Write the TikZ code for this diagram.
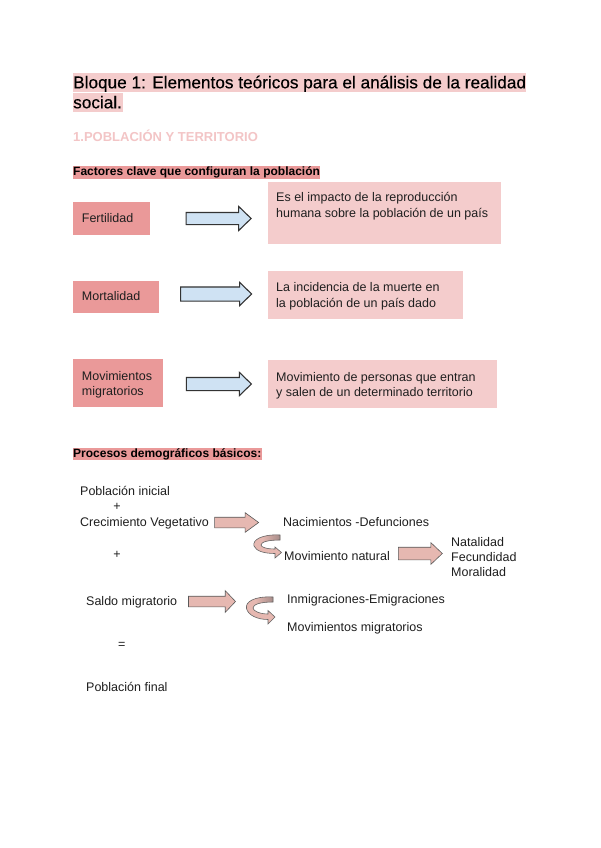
\documentclass[tikz,border=0pt]{standalone}
\usepackage{fontspec}
\setmainfont{Liberation Sans}
\newfontfamily\ttlfont{Liberation Sans}[FakeBold=0.35]
\usetikzlibrary{shapes.arrows}
\definecolor{hlA}{HTML}{F4CCCC}
\definecolor{hlB}{HTML}{EA9999}
\definecolor{secC}{HTML}{F3C5C6}
\definecolor{blueA}{HTML}{CFE2F3}
\definecolor{salmon}{HTML}{E6B8B1}
\definecolor{salmonD}{HTML}{A38A87}
\newcommand\curvpathA{(280,535) .. controls (262,534) and (252,540) .. (254,546) .. controls (256,551) and (264,553.5) .. (275,553.5)
  -- (275,558) -- (281.5,552.5) -- (275,547) -- (275,549)
  .. controls (266,549) and (261,547) .. (261,545) .. controls (261,542) and (268,540) .. (280,540) -- cycle}
\newcommand\curvpathB{(273,597) .. controls (254,596) and (245,602) .. (246.5,608.5) .. controls (248,615) and (257,619.5) .. (268,619.5)
  -- (268,624) -- (275,617) -- (268,610.5) -- (268,614)
  .. controls (260,614) and (253,611) .. (253,608) .. controls (253,604.5) and (260,602) .. (273,602) -- cycle}
\begin{document}
\begin{tikzpicture}[x=1pt,y=-1pt,
  txt/.style={inner sep=0pt, anchor=base west, font=\fontsize{12.5}{16}\selectfont, text=black!88},
  ttl/.style={inner sep=0pt, anchor=base west, font=\ttlfont\fontsize{17.2}{20}\selectfont, text=black},
  hd/.style={inner sep=0pt, anchor=base west, font=\fontsize{12}{14}\selectfont\bfseries, text=black},
  keybox/.style={fill=hlB, draw=none, anchor=north west, inner sep=0pt},
  descbox/.style={fill=hlA, draw=none, anchor=north west, inner sep=0pt},
  barrow/.style={single arrow, draw=black!80, line width=1.1pt, fill=blueA, inner xsep=0pt},
  parrow/.style={single arrow, draw=black!65, line width=0.6pt, fill=salmon, inner xsep=0pt},
  curvline/.style={draw=black!60, line width=0.6pt},
  curvshade/.style={left color=salmon, right color=salmonD},
]
\useasboundingbox[fill=white] (0,0) rectangle (600,848);

% title
\fill[hlA] (73,72.7) rectangle (526,91.7);
\fill[hlA] (73,93.3) rectangle (122.7,112.3);
\node[ttl] (t1) at (73,88.3) {Bloque 1: Elementos teóricos para el análisis de la realidad};
\node[ttl] (t2) at (73,108.3) {social.};
\node[inner sep=0pt, anchor=base west, font=\fontsize{13}{15}\selectfont\bfseries, text=secC] (sec) at (73,141.7) {1.POBLACIÓN Y TERRITORIO};

\fill[hlB] (73,166) rectangle (320,179.3);
\node[hd] (fac) at (73,175) {Factores clave que configuran la población};

% boxes row 1
\node[keybox, minimum width=77pt, minimum height=33pt] (fert) at (73,202) {};
\node[txt] (fertT) at (81.7,222.7) {Fertilidad};
\node[barrow, minimum height=65pt, minimum width=23pt, inner ysep=5.5pt, single arrow head extend=6pt, single arrow tip angle=88] (a1) at (215.5,218.5) {};
\node[descbox, minimum width=233pt, minimum height=62pt] (d1) at (268,182) {};
\node[txt] (d1a) at (276,201) {Es el impacto de la reproducción};
\node[txt] (d1b) at (276,217) {humana sobre la población de un país};

% row 2
\node[keybox, minimum width=86pt, minimum height=32pt] (mort) at (73,281) {};
\node[txt] (mortT) at (81.7,300.7) {Mortalidad};
\node[barrow, minimum height=71pt, minimum width=22pt, inner ysep=6.5pt, single arrow head extend=4.5pt, single arrow tip angle=88] (a2) at (212.5,294) {};
\node[descbox, minimum width=195pt, minimum height=48pt] (d2) at (268,271) {};
\node[txt] (d2a) at (276,291.7) {La incidencia de la muerte en};
\node[txt] (d2b) at (276,307.3) {la población de un país dado};

% row 3
\node[keybox, minimum width=90pt, minimum height=48pt] (mig) at (73,359) {};
\node[txt] (migA) at (81.7,380) {Movimientos};
\node[txt] (migB) at (81.7,395.5) {migratorios};
\node[barrow, minimum height=65pt, minimum width=22pt, inner ysep=6pt, single arrow head extend=5pt, single arrow tip angle=88] (a3) at (215.5,384) {};
\node[descbox, minimum width=229pt, minimum height=48pt] (d3) at (268,360) {};
\node[txt] (d3a) at (276,381) {Movimiento de personas que entran};
\node[txt] (d3b) at (276,396.7) {y salen de un determinado territorio};

% procesos
\fill[hlB] (72.7,448.3) rectangle (262.3,460);
\node[hd] (pro) at (73,457.3) {Procesos demográficos básicos:};

\node[txt] (pi) at (80,495) {Población inicial};
\node[txt, anchor=center] (p1) at (117,507) {+};
\node[txt] (cv) at (80,526) {Crecimiento Vegetativo};
\node[parrow, minimum height=44pt, minimum width=19pt, inner ysep=5pt, single arrow head extend=4.5pt, single arrow tip angle=72] (aA) at (233,522.5) {};
\node[txt] (nd) at (283,526.7) {Nacimientos -Defunciones};
\begin{scope}
  \clip \curvpathA;
  \fill[salmon] (250,530) rectangle (285,562);
  \shade[curvshade] (262,533) rectangle (281,541.5);
\end{scope}
\draw[curvline] \curvpathA;
\node[txt, anchor=center] (p2) at (117,555) {+};
\node[txt] (mn) at (284,560) {Movimiento natural};
\node[parrow, minimum height=44pt, minimum width=21pt, inner ysep=6pt, single arrow head extend=4.5pt, single arrow tip angle=87] (aB) at (417,553.5) {};
\node[txt] (na) at (451,546) {Natalidad};
\node[txt] (fe) at (451,561.7) {Fecundidad};
\node[txt] (mo) at (451,576) {Moralidad};

\node[txt] (sm) at (86,605) {Saldo migratorio};
\node[parrow, minimum height=47pt, minimum width=21pt, inner ysep=5pt, single arrow head extend=5.5pt, single arrow tip angle=93] (aC) at (209.5,601.5) {};
\begin{scope}
  \clip \curvpathB;
  \fill[salmon] (242,592) rectangle (278,628);
  \shade[curvshade] (255,595) rectangle (274,603.5);
\end{scope}
\draw[curvline] \curvpathB;
\node[txt] (ie) at (287,603.3) {Inmigraciones-Emigraciones};
\node[txt] (mm) at (287,631.7) {Movimientos migratorios};
\node[txt, anchor=center] (eq) at (121.7,645) {=};
\node[txt] (pf) at (86,691.7) {Población final};
\end{tikzpicture}
\end{document}
